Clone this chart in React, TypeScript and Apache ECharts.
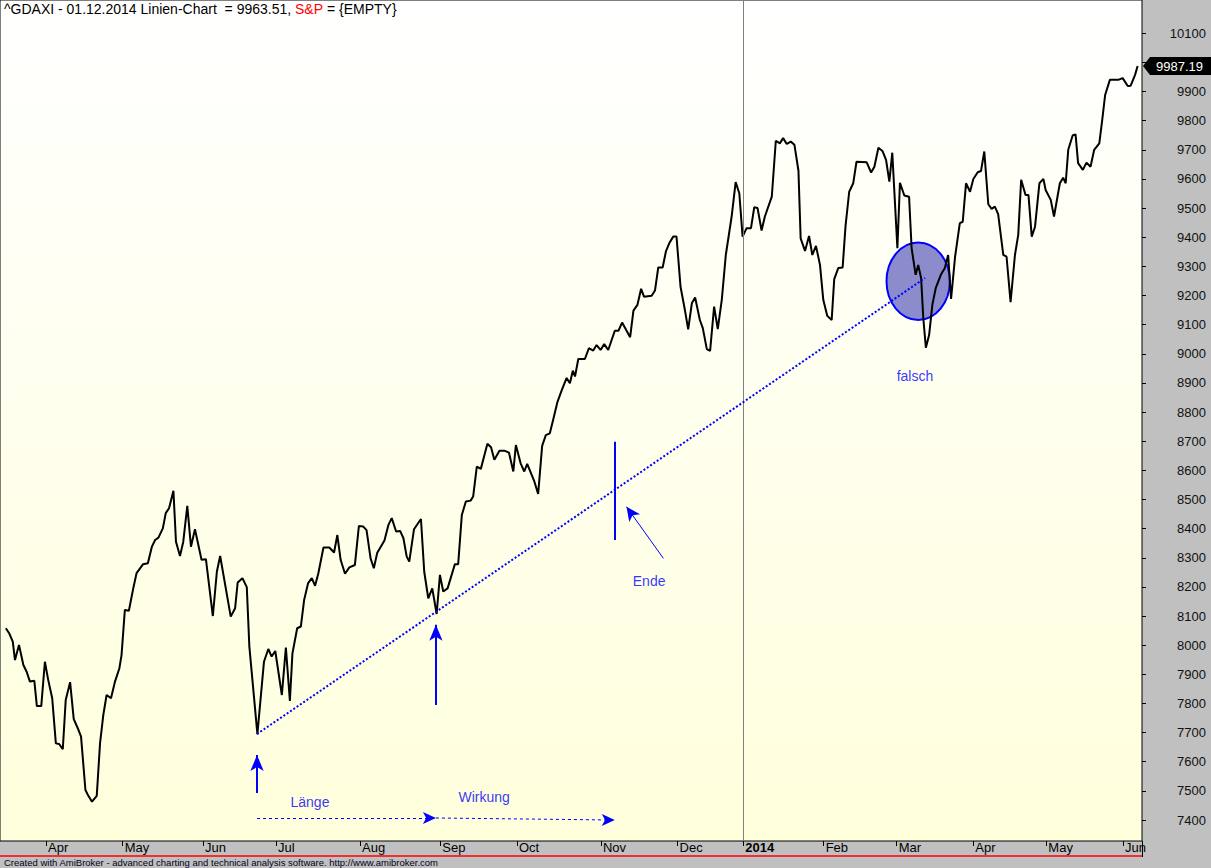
import React, { useEffect, useRef } from "react";
import * as echarts from "echarts";

// trading-day index (0 = first trading day of April 2013)
const dayIdx = [
  -11.0, -10.1, -9.1, -8.5, -7.4, -6.2, -5.3, -4.4, -3.2, -2.5,
  -1.3, -0.3, 0.6, 1.7, 2.7, 3.6, 4.6, 5.4, 6.6, 7.6,
  8.7, 9.6, 10.8, 11.6, 12.6, 13.9, 14.8, 15.7, 16.6, 17.8,
  18.9, 20.1, 20.7, 21.6, 22.7, 23.9, 24.8, 26.6, 27.9, 29.0,
  29.9, 30.8, 32.0, 32.8, 33.7, 34.9, 35.6, 36.7, 37.6, 38.7,
  39.7, 40.8, 42.6, 43.8, 45.7, 46.8, 47.7, 50.6, 51.8, 52.5,
  53.8, 55.0, 55.7, 57.9, 59.7, 60.9, 61.8, 62.8, 64.6, 65.7,
  66.8, 67.5, 68.8, 69.8, 70.7, 71.8, 72.8, 73.7, 74.6, 76.0,
  77.6, 78.9, 79.8, 80.7, 81.9, 83.1, 84.6, 85.7, 86.9, 87.8,
  88.9, 89.8, 90.7, 92.7, 93.8, 94.7, 95.9, 97.0, 97.9, 98.8,
  99.5, 100.8, 102.7, 103.6, 104.7, 105.8, 107.0, 107.9, 108.8, 110.0,
  112.0, 112.9, 113.9, 115.0, 116.3, 117.0, 118.0, 119.1, 120.9, 121.9,
  122.8, 124.2, 125.7, 126.8, 128.0, 128.7, 130.0, 131.0, 131.8, 133.7,
  134.8, 135.9, 136.9, 138.0, 138.9, 140.1, 141.3, 142.6, 143.5, 144.3,
  144.9, 145.8, 147.6, 148.7, 149.9, 150.8, 151.9, 152.9, 154.0, 155.8,
  156.8, 157.8, 160.0, 160.9, 162.0, 163.0, 163.8, 165.9, 166.8, 167.7,
  168.9, 169.8, 170.7, 171.8, 172.7, 173.8, 175.0, 175.9, 176.9, 177.8,
  179.1, 179.9, 181.0, 181.9, 183.0, 184.0, 185.1, 186.2, 187.8, 188.9,
  189.9, 190.8, 191.9, 193.1, 194.0, 194.9, 196.0, 196.9, 198.8, 199.9,
  201.0, 201.9, 202.9, 204.0, 205.0, 206.1, 206.7, 207.9, 209.0, 209.9,
  210.9, 212.0, 212.9, 214.0, 215.2, 215.9, 217.0, 218.2, 219.0, 220.0,
  221.1, 222.0, 224.8, 226.0, 226.9, 228.0, 229.1, 230.1, 231.0, 231.8,
  233.2, 233.9, 235.1, 236.4, 237.1, 238.2, 238.9, 239.7, 240.3, 241.0,
  241.9, 242.8, 243.7, 245.1, 246.2, 247.1, 247.9, 249.0, 250.3, 251.1,
  252.0, 253.1, 254.0, 255.2, 256.1, 257.0, 258.1, 259.0, 259.9, 260.8,
  262.2, 263.1, 264.2, 265.4, 266.3, 267.1, 268.3, 269.1, 270.0, 270.9,
  272.1, 273.2, 273.8, 275.2, 276.1, 277.7, 278.6, 279.3, 280.0, 281.2,
  282.0, 282.7, 284.0, 285.0, 286.1, 287.1, 288.5, 289.3, 290.1, 291.4,
  293.7, 294.9, 296.3, 297.1, 298.3, 299.0,
];

const closeVals = [
  8058, 8041, 8012, 7949, 8001, 7932, 7909, 7875, 7878, 7791,
  7791, 7943, 7881, 7818, 7663, 7661, 7643, 7812, 7873, 7746,
  7715, 7686, 7503, 7483, 7463, 7483, 7663, 7761, 7829, 7818,
  7875, 7921, 7967, 8121, 8118, 8195, 8247, 8278, 8281, 8338,
  8361, 8369, 8401, 8453, 8470, 8530, 8355, 8306, 8355, 8478,
  8338, 8398, 8293, 8295, 8100, 8252, 8306, 8098, 8127, 8215,
  8230, 8199, 7995, 7695, 7943, 7987, 7961, 7980, 7829, 7992,
  7809, 7972, 8058, 8064, 8155, 8213, 8230, 8204, 8247, 8335,
  8335, 8318, 8378, 8293, 8245, 8267, 8275, 8409, 8407, 8395,
  8298, 8264, 8316, 8359, 8413, 8436, 8390, 8392, 8367, 8304,
  8287, 8398, 8433, 8252, 8161, 8195, 8107, 8241, 8184, 8195,
  8278, 8278, 8447, 8493, 8496, 8510, 8613, 8605, 8691, 8679,
  8636, 8667, 8667, 8661, 8596, 8687, 8624, 8596, 8622, 8564,
  8519, 8684, 8721, 8727, 8773, 8835, 8876, 8917, 8899, 8942,
  8922, 8982, 8982, 9019, 9011, 9030, 9013, 9033, 9013, 9079,
  9079, 9107, 9057, 9148, 9168, 9223, 9196, 9199, 9217, 9296,
  9296, 9351, 9379, 9402, 9402, 9230, 9150, 9084, 9173, 9193,
  9116, 9088, 9016, 9010, 9162, 9085, 9185, 9339, 9471, 9589,
  9551, 9402, 9431, 9431, 9503, 9500, 9423, 9471, 9539, 9731,
  9722, 9740, 9720, 9728, 9717, 9628, 9396, 9353, 9404, 9339,
  9370, 9305, 9185, 9130, 9116, 9256, 9294, 9296, 9439, 9556,
  9585, 9659, 9657, 9622, 9642, 9707, 9696, 9665, 9591, 9690,
  9362, 9587, 9543, 9539, 9362, 9271, 9305, 9259, 9122, 9021,
  9065, 9170, 9225, 9271, 9294, 9339, 9188, 9333, 9448, 9453,
  9585, 9556, 9600, 9623, 9627, 9694, 9513, 9497, 9505, 9479,
  9339, 9333, 9177, 9339, 9408, 9597, 9545, 9545, 9402, 9436,
  9585, 9600, 9562, 9528, 9471, 9585, 9604, 9585, 9700, 9749,
  9753, 9654, 9631, 9656, 9642, 9700, 9722, 9802, 9888, 9940,
  9940, 9946, 9919, 9920, 9957, 9987.19,
];

const lastClose = 9987.19;

const monthTickIdx = [0, 21, 43, 63, 86, 108, 129, 152, 173, 191, 213, 233, 254, 274, 295];
const monthLabels = ["Apr", "May", "Jun", "Jul", "Aug", "Sep", "Oct", "Nov", "Dec", "2014", "Feb", "Mar", "Apr", "May", "Jun"];
const yearLabel = "2014";
const yearStartIdx = 191;

const yTicks = [7400, 7500, 7600, 7700, 7800, 7900, 8000, 8100, 8200, 8300, 8400, 8500, 8600, 8700, 8800, 8900, 9000, 9100, 9200, 9300, 9400, 9500, 9600, 9700, 9800, 9900, 10000, 10100];
// the 10000 label is covered by the last-value tag in the reference
const yHiddenLabel = 10000;

const xMin = -12.6;
const xMax = 300.2;
const yMin = 7328;
const yMax = 10214;

const titleMain = "^GDAXI - 01.12.2014 Linien-Chart  = 9963.51, ";
const titleRed = "S&P";
const titleTail = " = {EMPTY}";
const footerText = "Created with AmiBroker - advanced charting and technical analysis software. http://www.amibroker.com";

// annotations (data coordinates)
const trendLine = [[57.8, 7695], [240.8, 9260]];
const upArrows = [
  [[57.8, 7493], [57.8, 7623]],
  [[106.8, 7795], [106.8, 8070]],
];
const endeLine = [[155.8, 8361], [155.8, 8698]];
const endePointer = [[169.1, 8298], [159.0, 8475]];
const spanArrows = [
  [[57.8, 7407], [106.8, 7407]],
  [[106.8, 7407], [155.8, 7400]],
];
const ellipseData = [[238.9, 9249, 8.68, 132.8]];
const noteNames = ["Länge", "Wirkung", "Ende", "falsch"];
const notePos = [[72.3, 7462], [120.0, 7479], [165.2, 8220], [238.0, 8924]];

const BLUE = "#0000ff";
const FONT = "Arial, 'Liberation Sans', sans-serif";

export default function App() {
  const ref = useRef<HTMLDivElement>(null);

  useEffect(() => {
    if (!ref.current) return;
    const chart = echarts.init(ref.current, null, { renderer: "svg" });

    const lineData = dayIdx.map((d, i) => [d, closeVals[i]]);

    const markData: any[] = [
      { xAxis: yearStartIdx, symbol: "none", lineStyle: { color: "#808080", width: 1, type: "solid" } },
      [
        { coord: trendLine[0], symbol: "none", lineStyle: { color: BLUE, width: 2, type: [2, 2] } },
        { coord: trendLine[1], symbol: "none" },
      ],
      ...upArrows.map((a) => [
        { coord: a[0], symbol: "none", lineStyle: { color: BLUE, width: 2, type: "solid" } },
        { coord: a[1], symbol: "arrow", symbolSize: [10, 16] },
      ]),
      [
        { coord: endeLine[0], symbol: "none", lineStyle: { color: BLUE, width: 2, type: "solid" } },
        { coord: endeLine[1], symbol: "none" },
      ],
      [
        { coord: endePointer[0], symbol: "none", lineStyle: { color: BLUE, width: 1, type: "solid" } },
        { coord: endePointer[1], symbol: "arrow", symbolSize: [10, 14] },
      ],
      ...spanArrows.map((a) => [
        { coord: a[0], symbol: "none", lineStyle: { color: BLUE, width: 1, type: [3, 3] } },
        { coord: a[1], symbol: "arrow", symbolSize: [9, 13] },
      ]),
    ];

    chart.setOption({
      animation: false,
      backgroundColor: "#c0c0c0",
      grid: {
        left: 0,
        right: 69,
        top: 0,
        bottom: 27,
        show: true,
        borderColor: "#000",
        borderWidth: 1,
        backgroundColor: {
          type: "linear",
          x: 0,
          y: 0,
          x2: 0,
          y2: 1,
          colorStops: [
            { offset: 0, color: "#ffffff" },
            { offset: 1, color: "#ffffdc" },
          ],
        },
      },
      xAxis: {
        type: "value",
        min: xMin,
        max: xMax,
        splitLine: { show: false },
        axisLine: { show: false, onZero: false },
        axisTick: {
          show: true,
          customValues: monthTickIdx,
          length: 5,
          lineStyle: { color: "#000" },
        },
        axisLabel: {
          show: true,
          customValues: monthTickIdx,
          formatter: (v: number) => {
            const i = monthTickIdx.indexOf(Math.round(v));
            const t = i >= 0 ? monthLabels[i] : "";
            return t === yearLabel ? `{b|${t}}` : t;
          },
          align: "left",
          padding: [0, 0, 0, 2],
          margin: 0,
          color: "#000",
          fontSize: 13,
          fontFamily: FONT,
          rich: { b: { fontWeight: "bold", fontSize: 13, fontFamily: FONT, color: "#000" } },
        },
      },
      yAxis: {
        type: "value",
        position: "right",
        min: yMin,
        max: yMax,
        splitLine: { show: false },
        axisLine: { show: false, onZero: false },
        axisTick: {
          show: true,
          customValues: yTicks,
          length: 4,
          lineStyle: { color: "#000" },
        },
        axisLabel: {
          show: true,
          customValues: yTicks,
          formatter: (v: number) => (Math.round(v) === yHiddenLabel ? "" : String(Math.round(v))),
          align: "right",
          margin: 64,
          color: "#111",
          fontSize: 13,
          fontFamily: FONT,
        },
      },
      series: [
        {
          type: "custom",
          z: 1,
          silent: true,
          data: ellipseData,
          renderItem: (params: any, api: any) => {
            const c = api.coord([api.value(0), api.value(1)]);
            const s = api.size([api.value(2), api.value(3)]);
            return {
              type: "ellipse",
              shape: { cx: c[0], cy: c[1], rx: s[0], ry: s[1] },
              style: { fill: "#8c8ccc", stroke: BLUE, lineWidth: 2 },
            };
          },
        },
        {
          type: "line",
          z: 2,
          data: lineData,
          showSymbol: false,
          symbol: "none",
          silent: true,
          lineStyle: { color: "#000", width: 2 },
          markLine: {
            silent: true,
            animation: false,
            symbol: ["none", "none"],
            label: { show: false },
            emphasis: { disabled: true },
            data: markData,
          },
        },
        {
          type: "scatter",
          z: 3,
          silent: true,
          symbolSize: 1,
          itemStyle: { color: "rgba(0,0,0,0)" },
          data: noteNames.map((n, i) => ({ name: n, value: notePos[i] })),
          label: {
            show: true,
            position: "inside",
            formatter: "{b}",
            color: BLUE,
            fontSize: 14,
            fontFamily: FONT,
          },
        },
      ],
    });

    const py = chart.convertToPixel({ yAxisIndex: 0 }, lastClose) as number;
    const px = chart.convertToPixel({ xAxisIndex: 0 }, xMax) as number;
    const bottomY = chart.convertToPixel({ yAxisIndex: 0 }, yMin) as number;

    chart.setOption({
      graphic: [
        {
          type: "text",
          left: 4,
          top: 2,
          z: 10,
          style: {
            text: titleMain + "{r|" + titleRed + "}" + titleTail,
            fill: "#000",
            font: `14px ${FONT}`,
            rich: { r: { fill: "#ff0000", font: `14px ${FONT}` } },
          },
        },
        {
          type: "text",
          left: 4,
          top: 857,
          z: 10,
          style: { text: footerText, fill: "#000022", font: `9.5px ${FONT}` },
        },
        {
          type: "line",
          z: 10,
          shape: { x1: 0, y1: 856, x2: px, y2: 856 },
          style: { stroke: "#ff0000", lineWidth: 1.5 },
        },
        {
          type: "line",
          z: 10,
          shape: { x1: px + 0.5, y1: bottomY, x2: px + 0.5, y2: 857 },
          style: { stroke: "#000", lineWidth: 1 },
        },
        {
          type: "polygon",
          z: 20,
          shape: {
            points: [
              [px + 1, py],
              [px + 8, py - 9],
              [px + 69, py - 9],
              [px + 69, py + 9],
              [px + 8, py + 9],
            ],
          },
          style: { fill: "#000" },
        },
        {
          type: "text",
          z: 21,
          x: px + 14,
          y: py,
          style: {
            text: lastClose.toFixed(2),
            fill: "#fff",
            font: `13px ${FONT}`,
            verticalAlign: "middle",
          },
        },
      ],
    });

    return () => chart.dispose();
  }, []);

  return (
    <div
      ref={ref}
      style={{ position: "absolute", left: 0, top: 0, width: 1211, height: 868 }}
    />
  );
}
